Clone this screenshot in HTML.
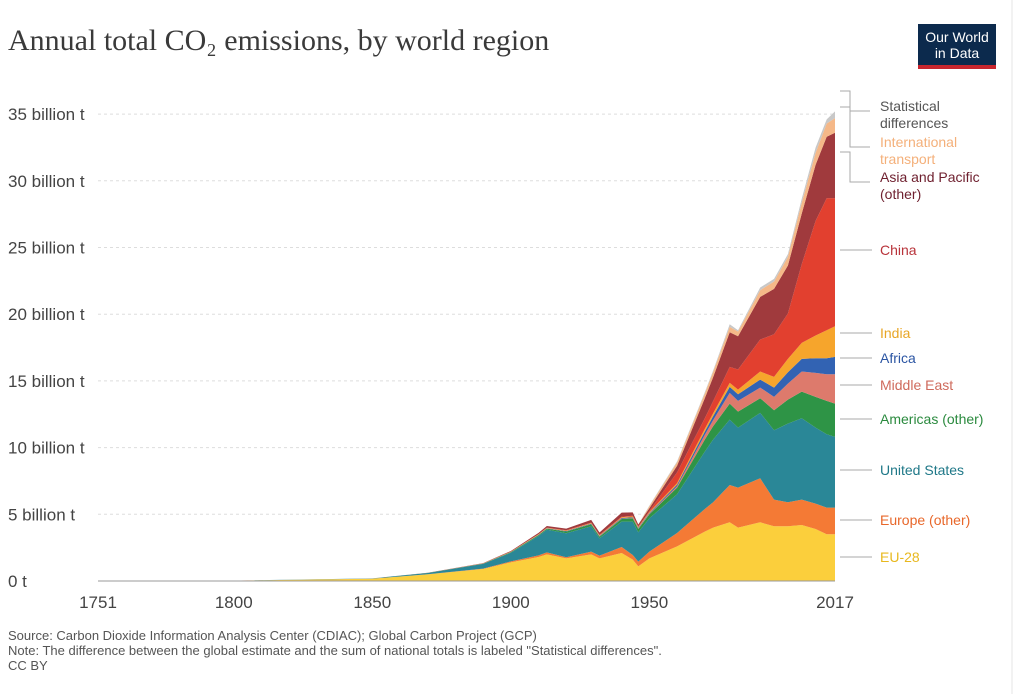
<!DOCTYPE html>
<html><head><meta charset="utf-8"><style>
body{margin:0;background:#fff;width:1024px;height:694px;overflow:hidden;font-family:"Liberation Sans",sans-serif}
svg text{font-family:"Liberation Sans",sans-serif}
</style></head><body>
<svg id="c" width="1024" height="694">
<text x="8" y="50" font-size="30" fill="#3a3a3a" style="font-family:'Liberation Serif',serif">Annual total CO₂ emissions, by world region</text>
<g>
<rect x="918" y="24" width="78" height="45" fill="#0c2a4d"/>
<rect x="918" y="65" width="78" height="4" fill="#c8262e"/>
<text x="957" y="42" text-anchor="middle" font-size="14" fill="#fff">Our World</text>
<text x="957" y="58" text-anchor="middle" font-size="14" fill="#fff">in Data</text>
</g>
<line x1="1012" y1="0" x2="1012" y2="694" stroke="#e6e6e6"/>
<g id="grid"></g><g id="areas"></g><g id="axes"></g><g id="labels"></g>
<text x="8" y="640" font-size="13" fill="#555">Source: Carbon Dioxide Information Analysis Center (CDIAC); Global Carbon Project (GCP)</text>
<text x="8" y="655" font-size="13" fill="#555">Note: The difference between the global estimate and the sum of national totals is labeled "Statistical differences".</text>
<text x="8" y="670" font-size="13" fill="#555">CC BY</text>
</svg>
<script>
const years=[1751,1800,1850,1870,1890,1900,1910,1913,1920,1929,1932,1940,1944,1946,1950,1960,1970,1973,1979,1982,1990,1995,2000,2005,2010,2014,2017];
const eu28  =[0.009,0.03,0.17,0.5,0.9,1.4,1.8,2.0,1.7,2.0,1.7,2.1,1.6,1.1,1.7,2.6,3.7,4.0,4.4,4.0,4.4,4.1,4.1,4.2,3.9,3.5,3.5];
const europeOther=[0,0,0.005,0.01,0.03,0.07,0.12,0.15,0.08,0.2,0.2,0.45,0.35,0.35,0.5,1.0,1.7,1.9,2.8,3.0,3.3,2.0,1.8,1.9,1.9,2.0,2.0];
const usa   =[0,0.0005,0.02,0.09,0.35,0.65,1.45,1.7,1.8,1.9,1.3,1.9,2.5,2.2,2.5,2.9,4.3,4.7,4.9,4.5,4.9,5.2,5.9,6.1,5.7,5.5,5.3];
const americasOther=[0,0,0,0.005,0.02,0.04,0.07,0.08,0.12,0.15,0.12,0.2,0.25,0.25,0.3,0.5,0.9,1.0,1.2,1.2,1.1,1.5,1.8,2.0,2.3,2.5,2.5];
const middleEast=[0,0,0,0,0,0,0.002,0.003,0.005,0.01,0.01,0.02,0.03,0.03,0.05,0.1,0.35,0.45,0.8,0.8,0.8,1.0,1.2,1.5,1.8,2.0,2.2];
const africa=[0,0,0,0,0.005,0.01,0.02,0.02,0.03,0.04,0.04,0.05,0.05,0.05,0.06,0.12,0.25,0.3,0.45,0.5,0.6,0.7,0.85,0.95,1.1,1.2,1.3];
const india =[0,0,0,0.005,0.01,0.02,0.03,0.03,0.04,0.05,0.05,0.06,0.06,0.06,0.06,0.12,0.2,0.22,0.3,0.35,0.6,0.8,1.0,1.2,1.7,2.1,2.3];
const china =[0,0,0,0,0.005,0.01,0.02,0.02,0.03,0.03,0.04,0.05,0.05,0.05,0.08,0.8,0.8,0.9,1.2,1.5,2.4,3.2,3.4,5.9,8.6,9.9,9.6];
const asiaOther=[0,0,0,0.005,0.02,0.05,0.1,0.12,0.12,0.2,0.18,0.3,0.25,0.15,0.2,0.5,1.5,1.8,2.6,2.5,3.2,3.4,3.6,3.8,4.2,4.6,4.9];
const intlTransport=[0,0,0,0,0,0,0,0,0,0,0,0,0,0,0.15,0.25,0.35,0.4,0.4,0.35,0.5,0.55,0.65,0.8,0.9,1.0,1.1];
const statDiff=[0,0,0,0,0,0,0,0,0,0,0,0,0,0,0.05,0.08,0.1,0.1,0.2,0.1,0.2,0.2,0.2,0.3,0.4,0.3,0.5];
const seriesNames=["EU-28","Europe (other)","United States","Americas (other)","Middle East","Africa","India","China","Asia and Pacific (other)","International transport","Statistical differences"];
const seriesData=[eu28,europeOther,usa,americasOther,middleEast,africa,india,china,asiaOther,intlTransport,statDiff];
const colors=["#fbcf3c","#f47a35","#2a8797","#2e9446","#dd7a6c","#3263b3","#f6a52c","#e2402f","#a03a3d","#f5b888","#c8c8c8"];
const labelY=[557,520,470,419,385,358,333,250,177,142,106];
const yTicks=[0,5,10,15,20,25,30,35];
const xTicks=[1751,1800,1850,1900,1950,2017];
const NS="http://www.w3.org/2000/svg";
const X0=98,X1=835,Y0=581,YS=13.34;
const x=y=>X0+(y-1751)/(2017-1751)*(X1-X0);
const yv=v=>Y0-v*YS;
function mk(t,a,p){const e=document.createElementNS(NS,t);for(const k in a)e.setAttribute(k,a[k]);p.appendChild(e);return e;}
const G=document.getElementById('grid'),A=document.getElementById('areas'),AX=document.getElementById('axes'),L=document.getElementById('labels');
yTicks.forEach(t=>{
 if(t>0){const l=mk('line',{x1:X0,x2:X1,y1:yv(t),y2:yv(t),stroke:'#ddd','stroke-dasharray':'3,3'},G);
 
 }
 const tx=mk('text',{x:8,y:yv(t)+6,'font-size':17,fill:'#444'},AX);tx.textContent=t===0?'0 t':t+' billion t';
 
 
});
let base=years.map(()=>0);
seriesData.forEach((s,i)=>{
 const top=base.map((b,j)=>b+s[j]);
 let d='M'+years.map((yr,j)=>x(yr)+','+yv(top[j])).join('L');
 for(let j=years.length-1;j>=0;j--)d+='L'+x(years[j])+','+yv(base[j]);
 const p=mk('path',{d:d+'Z',fill:colors[i]},A);
 
 
 base=top;
});
const ax=mk('line',{x1:X0,x2:X1,y1:Y0,y2:Y0,stroke:'#999'},AX);


xTicks.forEach(t=>{const tx=mk('text',{x:x(t),y:608,'font-size':17,fill:'#444','text-anchor':'middle'},AX);tx.textContent=t;
 
 });
const labelColors=["#e8b81e","#e8672a","#1f7888","#2a8a3e","#cf6a5c","#2b55a3","#e8a626","#b8333a","#6e1f2e","#f4b07a","#555"];
const lines2={"Statistical differences":["Statistical","differences"],"International transport":["International","transport"],"Asia and Pacific (other)":["Asia and Pacific","(other)"]};
seriesNames.forEach((n,i)=>{
 const ly=labelY[i];
 const ln=mk('polyline',{points:(i>=8?`840,${ly-5+ (i==8?-20:i==9?-30:-10)} 850,${ly-5+(i==8?-20:i==9?-30:-10)} 850,${ly+5} 870,${ly+5}`:`840,${ly} 872,${ly}`),fill:'none',stroke:'#aaa'},L);
 
 
 const tx=mk('text',{x:880,y:ly+5,'font-size':14,fill:labelColors[i]},L);
 const parts=lines2[n]||[n];
 parts.forEach((pt,k)=>{const ts=mk('tspan',{x:880,dy:k?17:0},tx);ts.textContent=pt;});
 
 
});
</script>
</body></html>
